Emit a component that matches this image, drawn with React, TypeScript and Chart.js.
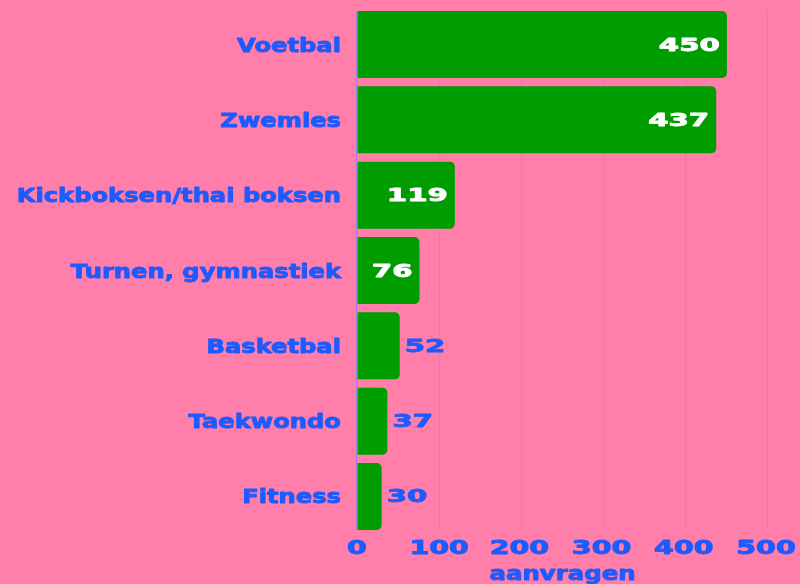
import React, { useEffect, useRef } from "react";
import { Chart, registerables } from "chart.js";

Chart.register(...registerables);

const categories: string[] = [
  "Voetbal",
  "Zwemles",
  "Kickboksen/thai boksen",
  "Turnen, gymnastiek",
  "Basketbal",
  "Taekwondo",
  "Fitness",
];
const values: number[] = [450, 437, 119, 76, 52, 37, 30];
const xTicks: number[] = [0, 100, 200, 300, 400, 500];
const axisTitle = "aanvragen";

const PINK = "#FF7EAA";
const GREEN = "#009D00";
const BLUE = "#1D5BFF";
const GRID = "#C886D2";
const ZERO = "#A07CDA";
const FONT = '"DejaVu Sans", "Liberation Sans", sans-serif';

function drawScaled(
  ctx: CanvasRenderingContext2D,
  text: string,
  x: number,
  y: number,
  align: CanvasTextAlign,
  sx: number,
  stroke: number
) {
  ctx.save();
  ctx.translate(x, y);
  ctx.scale(sx, 1);
  ctx.textAlign = align;
  ctx.textBaseline = "alphabetic";
  ctx.fillText(text, 0, 0);
  if (stroke > 0) {
    ctx.lineWidth = stroke;
    ctx.lineJoin = "round";
    ctx.strokeStyle = ctx.fillStyle as string;
    ctx.strokeText(text, 0, 0);
  }
  ctx.restore();
}

const textPlugin = {
  id: "textPlugin",
  afterDatasetsDraw(chart: any) {
    const ctx: CanvasRenderingContext2D = chart.ctx;
    const xs = chart.scales.x;
    const ys = chart.scales.y;
    const area = chart.chartArea;
    ctx.save();
    // category labels
    ctx.fillStyle = BLUE;
    ctx.font = `bold 20px ${FONT}`;
    categories.forEach((c, i) => {
      const y = ys.getPixelForValue(i);
      drawScaled(ctx, c, area.left - 16, y + 7, "right", 1.21, 0.9);
    });
    // x tick labels
    ctx.font = `bold 19px ${FONT}`;
    xTicks.forEach((t) => {
      const x = xs.getPixelForValue(t);
      drawScaled(ctx, String(t), x - (t > 100 ? 2 : 0), area.bottom + 24, "center", 1.5, 0.9);
    });
    // axis title
    ctx.font = `bold 20px ${FONT}`;
    drawScaled(ctx, axisTitle, (area.left + area.right) / 2, area.bottom + 50, "center", 1.22, 0.9);
    // data labels
    ctx.font = `bold 17px ${FONT}`;
    const sx = 1.72;
    const meta = chart.getDatasetMeta(0);
    meta.data.forEach((bar: any, i: number) => {
      const txt = String(values[i]);
      const w = ctx.measureText(txt).width * sx;
      const barW = bar.x - bar.base;
      if (barW >= w + 14) {
        ctx.fillStyle = "#FFFFFF";
        drawScaled(ctx, txt, bar.x - 7, bar.y + 6, "right", sx, 0.8);
      } else {
        ctx.fillStyle = BLUE;
        drawScaled(ctx, txt, bar.x + 5, bar.y + 6, "left", sx, 0.8);
      }
    });
    ctx.restore();
  },
};

export default function App() {
  const ref = useRef<HTMLCanvasElement | null>(null);
  useEffect(() => {
    if (!ref.current) return;
    const chart = new Chart(ref.current, {
      type: "bar",
      data: {
        datasets: [
          {
            data: values.map((v, i) => ({ x: v, y: i })) as any,
            backgroundColor: GREEN,
            borderWidth: 0,
            borderRadius: 5,
            borderSkipped: "start",
            barPercentage: 0.89,
            categoryPercentage: 1,
          },
        ],
      },
      options: {
        animation: false,
        responsive: true,
        maintainAspectRatio: false,
        indexAxis: "y",
        events: [],
        layout: { padding: { left: 357, right: 32, top: 11, bottom: 54 } },
        plugins: {
          legend: { display: false },
          tooltip: { enabled: false },
        },
        scales: {
          x: {
            type: "linear",
            min: 0,
            max: 500,
            offset: false,
            ticks: { display: false, stepSize: 100 },
            grid: {
              color: (c: any) => (c.tick && c.tick.value === 0 ? ZERO : GRID),
              lineWidth: 1.2,
              drawTicks: false,
            },
            border: { display: false },
          },
          y: {
            type: "linear",
            display: false,
            reverse: true,
            offset: false,
            bounds: "data",
            min: -0.445,
            max: 6.445,
            afterBuildTicks: (s: any) => {
              s.ticks = categories.map((_, i) => ({ value: i }));
            },
            ticks: { display: false },
            grid: { display: false },
            border: { display: false },
          },
        },
      },
      plugins: [textPlugin],
    });
    return () => chart.destroy();
  }, []);
  return (
    <div
      style={{
        position: "fixed",
        left: 0,
        top: 0,
        width: 800,
        height: 584,
        background: PINK,
      }}
    >
      <canvas ref={ref} />
    </div>
  );
}
